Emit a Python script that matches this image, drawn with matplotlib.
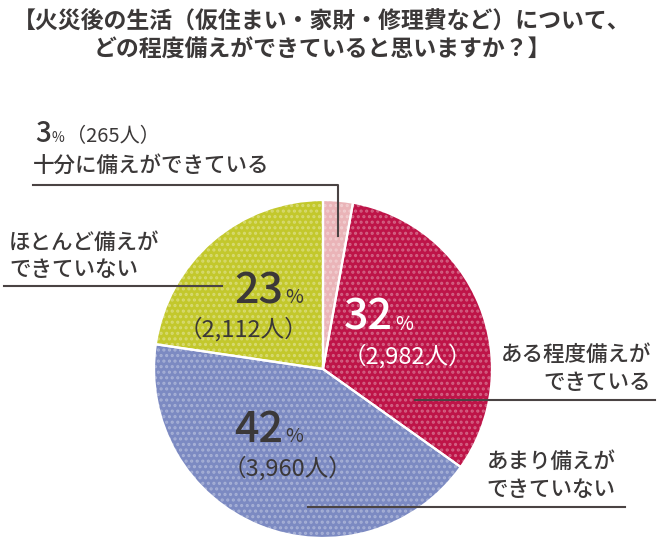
import matplotlib.pyplot as plt
import matplotlib.colors as mcolors

plt.rcParams['font.family'] = ['Noto Sans CJK JP', 'DejaVu Sans']

# data, clockwise from 12 o'clock
categories = ['十分に備えができている', 'ある程度備えができている', 'あまり備えができていない', 'ほとんど備えができていない']
people = [265, 2982, 3960, 2112]
percents = [3, 32, 42, 23]
colors = ['#eab4b8', '#be1448', '#7c8ac2', '#c3c82c']

title_lines = ['【火災後の生活（仮住まい・家財・修理費など）について、',
               'どの程度備えができていると思いますか？】']

TEXT = '#3b3838'
LINE = '#4a4343'


def lighten(c, amt):
    r, g, b = mcolors.to_rgb(c)
    return (r + (1 - r) * amt, g + (1 - g) * amt, b + (1 - b) * amt)


fig = plt.figure(figsize=(6.68, 5.43), dpi=100)
ax = fig.add_axes([0, 0, 1, 1])

plt.rcParams['hatch.linewidth'] = 1.5
center = (323, 369)
radius = 169

# dotted fill
wedges, _ = ax.pie(people, colors=colors, startangle=-90, counterclock=True,
                   center=center, radius=radius, frame=True,
                   wedgeprops=dict(linewidth=0, hatch='...'))
for w, c in zip(wedges, colors):
    w.set_edgecolor(lighten(c, 0.33))
    w.set_linewidth(0)

# white separators
ax.pie(people, colors=['none'] * 4, startangle=-90, counterclock=True,
       center=center, radius=radius, frame=True,
       wedgeprops=dict(linewidth=1.6, edgecolor='white', fill=False))

ax.set_xlim(0, 668)
ax.set_ylim(543, 0)
ax.set_aspect('equal')
ax.axis('off')

ax.text(322, 21, title_lines[0], ha='center', va='center', fontsize=16.5,
        fontweight='bold', color=TEXT)
ax.text(322, 50, title_lines[1], ha='center', va='center', fontsize=16.5,
        fontweight='bold', color=TEXT)


def pct(x, y, value, n, col, sub_dx=0, sub_dy=34):
    ax.text(x, y, str(value), ha='right', va='baseline', fontsize=31,
            color=col, fontweight='medium')
    ax.text(x + 2, y, '%', ha='left', va='baseline', fontsize=14, color=col)
    ax.text(x + sub_dx, y + sub_dy, f'（{n:,}人）', ha='center', va='baseline',
            fontsize=17, color=col)


# 3% label
ax.text(51, 142, str(percents[0]), ha='right', va='baseline', fontsize=20,
        color=TEXT, fontweight='medium')
ax.text(52, 142, '%', ha='left', va='baseline', fontsize=10, color=TEXT)
ax.text(66, 142, f'（{people[0]}人）', ha='left', va='baseline', fontsize=14.5,
        color=TEXT)
ax.text(33, 166, categories[0], ha='left', va='center', fontsize=15.5,
        color=TEXT, fontweight='medium')
ax.plot([33, 338, 338], [185, 185, 236], color=LINE, lw=1.5)

# big labels on the pie
pct(283, 303, percents[3], people[3], TEXT, sub_dx=-40)
pct(393, 330, percents[1], people[1], 'white', sub_dx=14)
pct(283, 442, percents[2], people[2], TEXT, sub_dx=5)

# side labels
side = dict(fontsize=15.5, color=TEXT, fontweight='medium', va='center')
ax.text(9, 243, 'ほとんど備えが', ha='left', **side)
ax.text(9, 270, 'できていない', ha='left', **side)
ax.plot([4, 222], [286, 286], color=LINE, lw=1.5)

ax.text(651, 355, 'ある程度備えが', ha='right', **side)
ax.text(651, 383, 'できている', ha='right', **side)
ax.plot([415, 655], [400, 400], color=LINE, lw=1.5)

ax.text(551, 462, 'あまり備えが', ha='center', **side)
ax.text(551, 490, 'できていない', ha='center', **side)
ax.plot([308, 625], [507, 507], color=LINE, lw=1.5)

fig.savefig('out.png', dpi=100, facecolor='white')
